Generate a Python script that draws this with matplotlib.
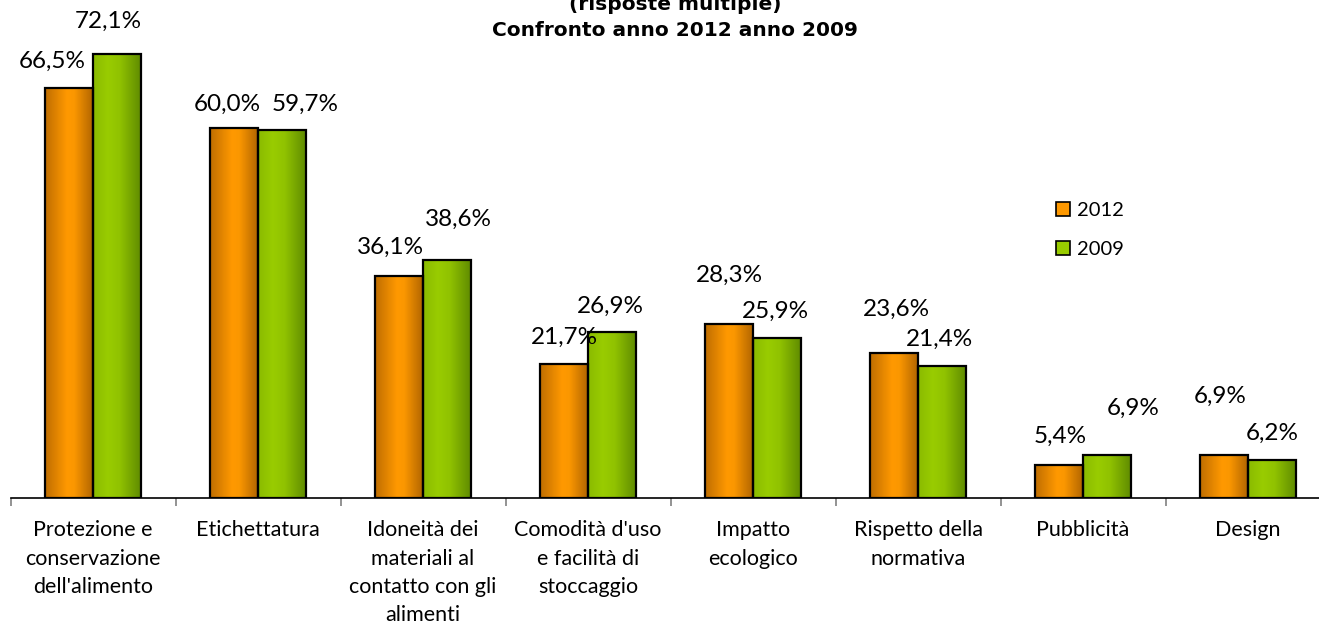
import numpy as np
import matplotlib
matplotlib.use("Agg")
import matplotlib.pyplot as plt
from matplotlib.colors import LinearSegmentedColormap
from matplotlib.patches import Rectangle
from matplotlib.lines import Line2D

plt.rcParams['font.family'] = ['Lato', 'DejaVu Sans']

# data
categories = [
    "Protezione e\nconservazione\ndell'alimento",
    "Etichettatura",
    "Idoneità dei\nmateriali al\ncontatto con gli\nalimenti",
    "Comodità d'uso\ne facilità di\nstoccaggio",
    "Impatto\necologico",
    "Rispetto della\nnormativa",
    "Pubblicità",
    "Design",
]
val_2012 = [66.5, 60.0, 36.1, 21.7, 28.3, 23.6, 5.4, 6.9]
val_2009 = [72.1, 59.7, 38.6, 26.9, 25.9, 21.4, 6.9, 6.2]
series_names = ["2012", "2009"]

# label offsets in pixels (dx, dy) relative to bar top centre, as in the original
off_2012 = [(-17, 27), (-7, 24), (-8, 28), (0, 27), (0, 48), (2, 43), (1, 28), (-4, 59)]
off_2009 = [(-9, 33), (23, 26), (11, 41), (-2, 26), (-2, 27), (-3, 27), (26, 47), (0, 26)]

orange_cmap = LinearSegmentedColormap.from_list(
    "orng", [(0, "#c06e00"), (0.45, "#ff9900"), (0.6, "#fb9700"), (1, "#b06400")])
green_cmap = LinearSegmentedColormap.from_list(
    "grn", [(0, "#8abb00"), (0.3, "#99cc00"), (0.55, "#90c200"), (1, "#5e8a00")])

W, H = 1319, 630
fig = plt.figure(figsize=(W / 100, H / 100), dpi=100)
ax = fig.add_axes([10.5 / W, 132 / H, 1320 / W, 492.8 / H])

bw = 0.291
x = np.arange(len(categories))
grad = np.linspace(0, 1, 64).reshape(1, -1)

for i in range(len(categories)):
    for vals, cmap, sign in ((val_2012, orange_cmap, -1), (val_2009, green_cmap, 0)):
        x0 = x[i] + sign * bw
        ax.imshow(grad, extent=(x0, x0 + bw, 0, vals[i]), aspect='auto',
                  cmap=cmap, zorder=2, interpolation='bilinear')
        ax.add_patch(Rectangle((x0, 0), bw, vals[i], facecolor='none',
                               edgecolor='black', lw=1.6, zorder=3))

for vals, offs in ((val_2012, off_2012), (val_2009, off_2009)):
    for i, v in enumerate(vals):
        cx = x[i] - bw / 2 if vals is val_2012 else x[i] + bw / 2
        ax.annotate(f"{v:.1f}%".replace(".", ","), (cx, v), xytext=offs[i],
                    textcoords='offset pixels', ha='center', va='center',
                    fontsize=17.5, zorder=4)

ax.set_xlim(-0.5, len(categories) - 0.5)
ax.set_ylim(0, 80)

for s in ['top', 'right', 'left']:
    ax.spines[s].set_visible(False)
ax.spines['bottom'].set_linewidth(1.2)
ax.set_yticks([])
ax.set_xticks(np.arange(-0.5, len(categories), 1.0))
ax.set_xticklabels([])
ax.tick_params(axis='x', length=6, width=1.2, color='#808080', direction='out')
ax.set_xticks(x, minor=True)
ax.set_xticklabels(categories, minor=True, fontsize=15.5, linespacing=1.52, va='top')
ax.tick_params(axis='x', which='minor', length=0, pad=16)

fig.text(675 / W, 1 - 5 / H, "(risposte multiple)", ha='center', va='center',
         fontsize=14.5, fontweight='bold', family='DejaVu Sans')
fig.text(675 / W, 1 - 30 / H, "Confronto anno 2012 anno 2009", ha='center', va='center',
         fontsize=14.5, fontweight='bold', family='DejaVu Sans')

handles = [Line2D([], [], marker='s', ls='none', markersize=10, markerfacecolor=c,
                  markeredgecolor='black', markeredgewidth=1.2)
           for c in ("#ff9900", "#99cc00")]
fig.legend(handles, series_names, loc='center left', bbox_to_anchor=(1033 / W, 1 - 230 / H),
           frameon=False, fontsize=14.5, handletextpad=0.1, labelspacing=1.05, handlelength=1.2)

fig.savefig("out.png", dpi=100)
